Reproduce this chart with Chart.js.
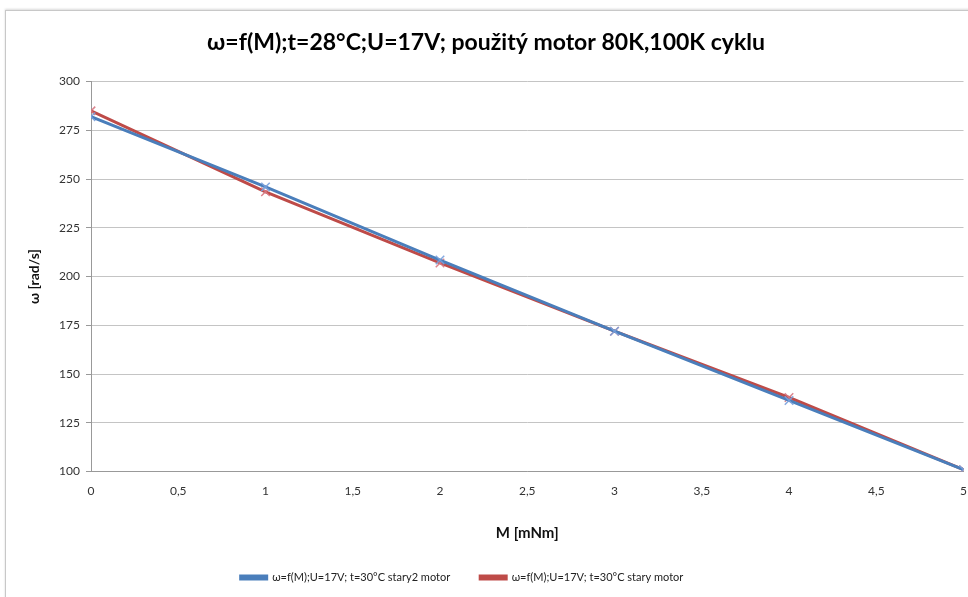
<!DOCTYPE html>
<html lang="cs">
<head>
<meta charset="UTF-8">
<title>ω=f(M)</title>
<script src="https://cdn.jsdelivr.net/npm/chart.js"></script>
<style>
  body { margin: 0; background: #fff; overflow: hidden; }
  .frame {
    position: absolute; left: 5px; top: 10px; width: 1000px; height: 700px;
    border: 1px solid #c8c8c8; box-shadow: 0 -1px 2px rgba(0,0,0,0.15);
  }
  /* a bit wider than the window so the last x label is cut like in the original */
  .wrap { position: absolute; left: 0; top: 0; width: 974px; height: 597px; }
</style>
</head>
<body>
<div class="frame"></div>
<div class="wrap"><canvas id="chart"></canvas></div>
<script>
// data
const torque = [0, 1, 2, 3, 4, 5];
const omegaStary2 = [282, 246, 208.5, 172, 136.5, 101];
const omegaStary = [285, 243.5, 207, 172, 138, 101];
const seriesNames = [
  "ω=f(M);U=17V; t=30°C stary2 motor",
  "ω=f(M);U=17V; t=30°C stary motor"
];
const titleText = "ω=f(M);t=28°C;U=17V; použitý motor 80K,100K cyklu";

const fontFamily = "Lato, 'Open Sans', sans-serif";
const toPoints = (ys) => torque.map((x, i) => ({ x, y: ys[i] }));

// the original legend sits a little left of centre
const legendShift = {
  id: "legendShift",
  afterLayout(chart) {
    chart.legend.left -= 24;
    chart.legend.right -= 24;
  }
};

new Chart(document.getElementById("chart"), {
  type: "scatter",
  data: {
    datasets: [
      {
        label: seriesNames[0],
        data: toPoints(omegaStary2),
        showLine: true,
        borderColor: "#4a7ebb",
        backgroundColor: "#4a7ebb",
        borderWidth: 3,
        pointStyle: "crossRot",
        pointRadius: 6,
        pointBorderColor: "rgba(120,160,220,0.9)",
        pointBorderWidth: 1.5
      },
      {
        label: seriesNames[1],
        data: toPoints(omegaStary),
        showLine: true,
        borderColor: "#be4b48",
        backgroundColor: "#be4b48",
        borderWidth: 3,
        pointStyle: "crossRot",
        pointRadius: 6,
        pointBorderColor: "rgba(215,120,130,0.9)",
        pointBorderWidth: 1.5
      }
    ]
  },
  options: {
    responsive: true,
    maintainAspectRatio: false,
    animation: false,
    layout: { padding: { left: 0, right: 2, top: 0, bottom: 4 } },
    plugins: {
      title: {
        display: true,
        text: titleText,
        color: "#000",
        font: { family: fontFamily, size: 23, weight: "bold" },
        padding: { top: 29, bottom: 25 }
      },
      legend: {
        position: "bottom",
        labels: {
          color: "#222",
          font: { family: fontFamily, size: 11 },
          boxWidth: 26,
          boxHeight: 3,
          padding: 30
        }
      },
      tooltip: { enabled: false }
    },
    scales: {
      x: {
        type: "linear",
        min: 0,
        max: 5,
        ticks: {
          stepSize: 0.5,
          color: "#333",
          font: { family: fontFamily, size: 12 },
          padding: 7,
          callback: (v) => String(v).replace(".", ",")
        },
        grid: { display: false, drawTicks: true, tickLength: 5, tickColor: "#999" },
        border: { color: "#999" },
        title: {
          display: true,
          text: "M [mNm]",
          color: "#111",
          font: { family: fontFamily, size: 15, weight: "bold" },
          padding: { top: 19, bottom: 0 }
        }
      },
      y: {
        min: 100,
        max: 300,
        ticks: {
          stepSize: 25,
          color: "#333",
          font: { family: fontFamily, size: 12 },
          padding: 6
        },
        grid: { color: "#c4c4c4", lineWidth: 1, tickLength: 5, tickColor: "#999" },
        border: { color: "#999" },
        title: {
          display: true,
          text: "ω [rad/s]",
          color: "#111",
          font: { family: fontFamily, size: 14, weight: "bold" },
          padding: { top: 26, bottom: 0 }
        },
        afterFit: (scale) => { scale.width = 91; }
      }
    }
  },
  plugins: [legendShift]
});
</script>
</body>
</html>
